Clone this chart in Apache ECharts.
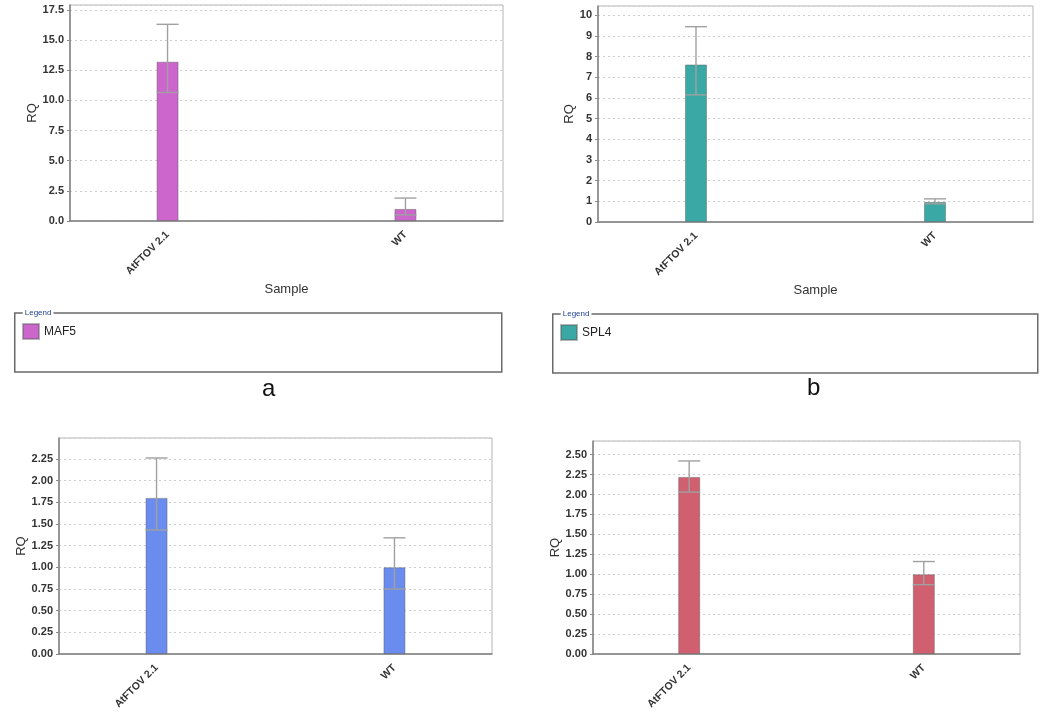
<!DOCTYPE html>
<html>
<head>
<meta charset="utf-8">
<script src="https://cdn.jsdelivr.net/npm/echarts@6/dist/echarts.min.js"></script>
<style>
  html, body { margin: 0; padding: 0; background: #fff; }
  #chart { width: 1050px; height: 712px; }
</style>
</head>
<body>
<div id="chart"></div>
<script>
  // samples on the x axis
  var categories = ['AtFTOV 2.1', 'WT'];
  var catPos = [0, 1];

  // RQ values and RQmin / RQmax for each panel
  var maf5 = [13.2, 1.0];
  var maf5Low = [10.65, 0.5];
  var maf5High = [16.3, 1.9];

  var spl4 = [7.62, 0.97];
  var spl4Low = [6.15, 0.88];
  var spl4High = [9.45, 1.12];

  var geneC = [1.80, 1.0];
  var geneCLow = [1.43, 0.75];
  var geneCHigh = [2.26, 1.34];

  var geneD = [2.22, 1.0];
  var geneDLow = [2.03, 0.87];
  var geneDHigh = [2.42, 1.16];

  var panelNames = ['MAF5', 'SPL4', 'Gene c', 'Gene d'];
  var panelColors = ['#cc66cc', '#3aa9a5', '#6a8cee', '#d0606f'];

  var chart = echarts.init(document.getElementById('chart'));
  var font = 'Liberation Sans, Arial, sans-serif';

  var panels = [
    {vals: maf5, low: maf5Low, high: maf5High, max: 17.9, interval: 2.5, dec: 1,
      grid: {left: 70, top: 5, width: 433, height: 216}, nameGap: 30, sample: true},
    {vals: spl4, low: spl4Low, high: spl4High, max: 10.45, interval: 1, dec: 0,
      grid: {left: 598, top: 6, width: 435, height: 216}, nameGap: 22, sample: true},
    {vals: geneC, low: geneCLow, high: geneCHigh, max: 2.49, interval: 0.25, dec: 2,
      grid: {left: 59, top: 438, width: 433, height: 217}, nameGap: 30, sample: false},
    {vals: geneD, low: geneDLow, high: geneDHigh, max: 2.67, interval: 0.25, dec: 2,
      grid: {left: 593, top: 441, width: 427, height: 216}, nameGap: 30, sample: false}
  ];

  function renderErr(params, api) {
    var x = api.value(0);
    var lo = api.coord([x, api.value(1)]);
    var hi = api.coord([x, api.value(2)]);
    var w = 11;
    var st = {stroke: '#a0a0a0', lineWidth: 1.4};
    return {
      type: 'group',
      children: [
        {type: 'line', shape: {x1: hi[0], y1: hi[1], x2: lo[0], y2: lo[1]}, style: st},
        {type: 'line', shape: {x1: hi[0] - w, y1: hi[1], x2: hi[0] + w, y2: hi[1]}, style: st},
        {type: 'line', shape: {x1: lo[0] - w, y1: lo[1], x2: lo[0] + w, y2: lo[1]}, style: st}
      ]
    };
  }

  var grids = [], xAxes = [], yAxes = [], series = [];
  panels.forEach(function (p, i) {
    grids.push(Object.assign({show: true, borderColor: '#b5b5b5', borderWidth: 1, backgroundColor: '#fff'}, p.grid));
    xAxes.push({
      type: 'value', gridIndex: i, min: -0.41, max: 1.41,
      name: p.sample ? 'Sample' : '', nameLocation: 'middle', nameGap: 62,
      nameTextStyle: {fontFamily: font, fontSize: 13, color: '#333'},
      axisLine: {onZero: false, lineStyle: {color: '#808080', width: 1.5}},
      axisTick: {show: false},
      splitLine: {show: false},
      axisLabel: {
        customValues: catPos,
        rotate: 45, fontFamily: font, fontSize: 10.5, fontWeight: 'bold', color: '#333', margin: 12,
        formatter: function (v) { return categories[catPos.indexOf(Math.round(v))] || ''; }
      }
    });
    yAxes.push({
      type: 'value', gridIndex: i, min: 0, max: p.max, interval: p.interval,
      name: 'RQ', nameLocation: 'middle', nameGap: p.nameGap,
      nameTextStyle: {fontFamily: font, fontSize: 13, color: '#333'},
      axisLine: {show: true, onZero: false, lineStyle: {color: '#808080', width: 1.5}},
      axisTick: {show: true, length: 3, lineStyle: {color: '#888'}},
      splitLine: {lineStyle: {color: '#cfcfcf', type: [2, 3]}},
      axisLabel: {
        fontFamily: font, fontSize: 11, fontWeight: 'bold', color: '#333', margin: 6,
        showMaxLabel: false,
        formatter: function (v) { return v.toFixed(p.dec); }
      }
    });
    series.push({
      name: panelNames[i], type: 'bar', xAxisIndex: i, yAxisIndex: i,
      barWidth: 22,
      itemStyle: {color: panelColors[i], borderColor: 'rgba(90,90,90,0.45)', borderWidth: 1},
      data: p.vals.map(function (v, k) { return [catPos[k], v]; }),
      z: 2
    });
    series.push({
      type: 'custom', xAxisIndex: i, yAxisIndex: i,
      renderItem: renderErr,
      encode: {x: 0, y: [1, 2]},
      data: p.vals.map(function (v, k) { return [catPos[k], p.low[k], p.high[k]]; }),
      z: 5
    });
  });

  function legendBox(x, y, w, h) {
    return {
      type: 'group', left: x, top: y,
      children: [
        {type: 'rect', shape: {x: 0, y: 0, width: w, height: h},
          style: {fill: '#fff', stroke: '#6a6a6a', lineWidth: 1.5}},
        {type: 'text', x: 8, y: -4,
          style: {text: 'Legend', fill: '#1f3f8f', font: '8px ' + font, backgroundColor: '#fff', padding: [0, 2]}}
      ]
    };
  }

  var option = {
    backgroundColor: '#fff',
    animation: false,
    grid: grids,
    xAxis: xAxes,
    yAxis: yAxes,
    legend: [
      {data: ['MAF5'], left: 17, top: 318, icon: 'rect', itemWidth: 16, itemHeight: 15, itemGap: 4,
        textStyle: {fontFamily: font, fontSize: 12, color: '#222'}, z: 10},
      {data: ['SPL4'], left: 555, top: 319, icon: 'rect', itemWidth: 16, itemHeight: 15, itemGap: 4,
        textStyle: {fontFamily: font, fontSize: 12, color: '#222'}, z: 10}
    ],
    graphic: [
      legendBox(14, 309, 487, 59),
      legendBox(552, 310, 485, 59),
      {type: 'text', left: 262, top: 377, style: {text: 'a', font: '24px ' + font, fill: '#111'}},
      {type: 'text', left: 807, top: 376, style: {text: 'b', font: '24px ' + font, fill: '#111'}}
    ],
    series: series
  };
  chart.setOption(option);
</script>
</body>
</html>
